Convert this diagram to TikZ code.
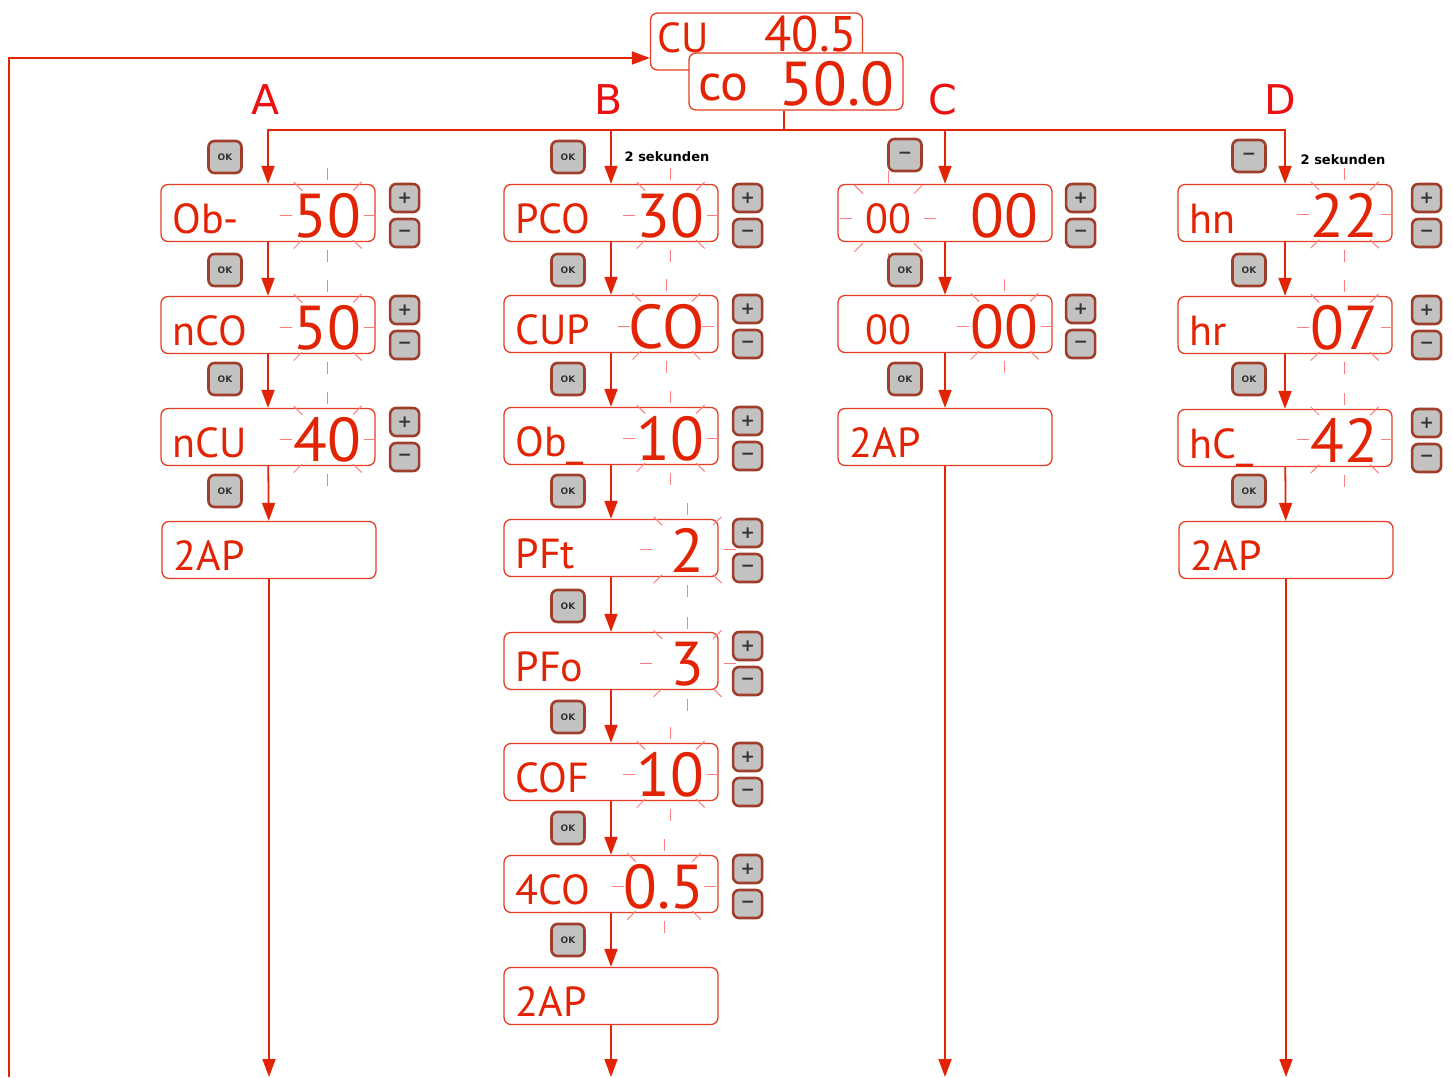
\documentclass[tikz,border=0pt]{standalone}
\usepackage{fontspec}
\setmainfont{DejaVu Sans}
\newfontfamily\lcdfont{PT Sans}
\usetikzlibrary{arrows.meta}

\definecolor{lcdred}{RGB}{226,36,4}
\definecolor{rimred}{RGB}{228,62,34}
\definecolor{btnrim}{RGB}{160,62,44}
\definecolor{btngray}{RGB}{196,194,192}
\definecolor{blinkred}{RGB}{255,125,125}
\definecolor{tagred}{RGB}{236,16,16}

% one LCD window: frame, label on the left, value on the right
\newcommand{\lcdrow}[6][12]{%
  \node[lcd] (#2) at (#3,#4) {};
  \node[lcdlabel] (#2l) at ([xshift=#1pt,yshift=-20pt]#2.west) {#5};
  \node[lcdvalue] (#2v) at ([xshift=-14pt,yshift=-24pt]#2.east) {#6};
}
% + and - keys beside a window
\newcommand{\pluskeys}[2][29]{%
  \node[pmbtn] (#2p) at ([xshift=#1pt,yshift=15pt]#2.east) {+};
  \node[pmbtn] (#2m) at ([xshift=#1pt,yshift=-20pt]#2.east) {−};
}
% blinking marks round a field
\newcommand{\blinkrays}[2][36]{%
  \pgfmathsetmacro{\blinkout}{#1+12}%
  \foreach \ang in {0,45,...,315}
    \draw[blink] ([shift={(\ang:#1pt and 35pt)}]#2.center)
      -- ([shift={(\ang:\blinkout pt and 47pt)}]#2.center);
}

\begin{document}
\begin{tikzpicture}[x=1pt, y=-1pt,
  lcd/.style={draw=rimred, line width=1.3pt, rounded corners=7pt, fill=white,
    minimum width=214pt, minimum height=57pt, inner sep=0pt},
  lcdlabel/.style={anchor=base west, inner sep=0pt, text=lcdred,
    font=\lcdfont\fontsize{42}{42}\selectfont},
  lcdvalue/.style={anchor=base east, inner sep=0pt, text=lcdred,
    font=\lcdfont\fontsize{62}{62}\selectfont},
  okbtn/.style={draw=btnrim, line width=2.6pt, fill=btngray, rounded corners=6pt,
    minimum width=33pt, minimum height=32pt, inner sep=0pt, text=black!80,
    font=\fontsize{9}{9}\selectfont\bfseries},
  pmbtn/.style={okbtn, minimum width=29pt, minimum height=28pt,
    font=\fontsize{17}{17}\selectfont\bfseries},
  bigbtn/.style={okbtn, font=\fontsize{17}{17}\selectfont\bfseries},
  flow/.style={draw=lcdred, line width=1.8pt},
  flowarrow/.style={flow, -{Triangle[length=18pt, width=13pt]}},
  blink/.style={draw=blinkred, line width=1pt},
  tag/.style={text=tagred, font=\fontsize{41}{41}\selectfont},
  note/.style={font=\fontsize{13}{13}\selectfont\bfseries}
]
\useasboundingbox (0,0) rectangle (1453,1077);

% =============================================================================
% Start screen
% =============================================================================
\node[lcd, minimum width=212pt] (back) at (756.5,41.5) {};
\node[lcdlabel] (backl) at ([xshift=7pt,yshift=-11pt]back.west) {CU};
\node[lcdvalue, font=\lcdfont\fontsize{50}{50}\selectfont]
  (backv) at ([xshift=-6pt,yshift=-9.5pt]back.east) {40.5};
\node[lcd] (front) at (796,81.5) {};
\node[lcdlabel, font=\lcdfont\fontsize{52}{52}\selectfont]
  (frontl) at ([xshift=10pt,yshift=-19pt]front.west) {co};
\node[lcdvalue] (frontv) at ([xshift=-9pt,yshift=-24pt]front.east) {50.0};

% return path
\coordinate (loopbot) at (9,1077);
\coordinate (loopin) at ([yshift=-16.5pt]back.west);
\draw[flowarrow] (loopbot) |- (loopin);

% bus to the four menus
\coordinate (bus) at (784,130);
\draw[flow] (front.south -| bus) -- (bus);

\node[tag] (taga) at (266,100) {A};
\node[tag] (tagb) at (609,100) {B};
\node[tag] (tagc) at (943,100) {C};
\node[tag] (tagd) at (1280,100) {D};

% =============================================================================
% Menu A
% =============================================================================
\lcdrow{a1}{268}{213}{Ob-}{50}
\lcdrow{a2}{268}{325}{nCO}{50}
\lcdrow{a3}{268}{437}{nCU}{40}
\lcdrow{a4}{269}{550}{2AP}{}
\pluskeys{a1} \pluskeys{a2} \pluskeys{a3}
\blinkrays{a1v} \blinkrays{a2v} \blinkrays{a3v}

\node[okbtn] (aok1) at (225,157) {OK};
\node[okbtn] (aok2) at (225,270) {OK};
\node[okbtn] (aok3) at (225,379) {OK};
\node[okbtn] (aok4) at (225,491) {OK};

\coordinate (aend) at (a4.south |- 0,1077);
\draw[flowarrow] (bus) -| (a1.north);
\draw[flowarrow] (a1) -- (a2);
\draw[flowarrow] (a2) -- (a3);
\draw[flowarrow] (a3) -- (a4);
\draw[flowarrow] (a4) -- (aend);

% =============================================================================
% Menu B
% =============================================================================
\lcdrow{b1}{611}{213}{PCO}{30}
\lcdrow{b2}{611}{324}{CUP}{CO}
\lcdrow{b3}{611}{436}{Ob\_}{10}
\lcdrow{b4}{611}{548}{PFt}{2}
\lcdrow{b5}{611}{661}{PFo}{3}
\lcdrow{b6}{611}{772}{COF}{10}
\lcdrow{b7}{611}{884}{4CO}{0.5}
\lcdrow{b8}{611}{996}{2AP}{}
\pluskeys{b1} \pluskeys{b2} \pluskeys{b3} \pluskeys{b4}
\pluskeys{b5} \pluskeys{b6} \pluskeys{b7}
\blinkrays{b1v} \blinkrays{b2v} \blinkrays{b3v} \blinkrays{b4v}
\blinkrays{b5v} \blinkrays{b6v} \blinkrays[40]{b7v}

\node[okbtn] (bok1) at (568,157) {OK};
\node[okbtn] (bok2) at (568,270) {OK};
\node[okbtn] (bok3) at (568,379) {OK};
\node[okbtn] (bok4) at (568,491) {OK};
\node[okbtn] (bok5) at (568,606) {OK};
\node[okbtn] (bok6) at (568,717) {OK};
\node[okbtn] (bok7) at (568,828) {OK};
\node[okbtn] (bok8) at (568,940) {OK};
\node[note] (bnote) at (667,157) {2 sekunden};

\coordinate (bend) at (b8.south |- 0,1077);
\draw[flowarrow] (bus) -| (b1.north);
\draw[flowarrow] (b1) -- (b2);
\draw[flowarrow] (b2) -- (b3);
\draw[flowarrow] (b3) -- (b4);
\draw[flowarrow] (b4) -- (b5);
\draw[flowarrow] (b5) -- (b6);
\draw[flowarrow] (b6) -- (b7);
\draw[flowarrow] (b7) -- (b8);
\draw[flowarrow] (b8) -- (bend);

% =============================================================================
% Menu C
% =============================================================================
\lcdrow[28]{c1}{945}{213}{00}{00}
\lcdrow[28]{c2}{945}{324}{00}{00}
\lcdrow{c3}{945}{437}{2AP}{}
\pluskeys[28]{c1} \pluskeys[28]{c2}
\blinkrays{c1l} \blinkrays{c2v}

\node[bigbtn] (cminus) at (905,155) {−};
\node[okbtn] (cok2) at (905,270) {OK};
\node[okbtn] (cok3) at (905,379) {OK};

\coordinate (cend) at (c3.south |- 0,1077);
\draw[flowarrow] (bus) -| (c1.north);
\draw[flowarrow] (c1) -- (c2);
\draw[flowarrow] (c2) -- (c3);
\draw[flowarrow] (c3) -- (cend);

% =============================================================================
% Menu D
% =============================================================================
\lcdrow{d1}{1285}{213}{hn}{22}
\lcdrow{d2}{1285}{325}{hr}{07}
\lcdrow{d3}{1285}{438}{hC\_}{42}
\lcdrow{d4}{1286}{550}{2AP}{}
\pluskeys[34]{d1} \pluskeys[34]{d2} \pluskeys[34]{d3}
\blinkrays{d1v} \blinkrays{d2v} \blinkrays{d3v}

\node[bigbtn] (dminus) at (1249,156) {−};
\node[okbtn] (dok2) at (1249,270) {OK};
\node[okbtn] (dok3) at (1249,379) {OK};
\node[okbtn] (dok4) at (1249,491) {OK};
\node[note] (dnote) at (1343,160) {2 sekunden};

\coordinate (dend) at (d4.south |- 0,1077);
\draw[flowarrow] (bus) -| (d1.north);
\draw[flowarrow] (d1) -- (d2);
\draw[flowarrow] (d2) -- (d3);
\draw[flowarrow] (d3) -- (d4);
\draw[flowarrow] (d4) -- (dend);

\end{tikzpicture}
\end{document}
